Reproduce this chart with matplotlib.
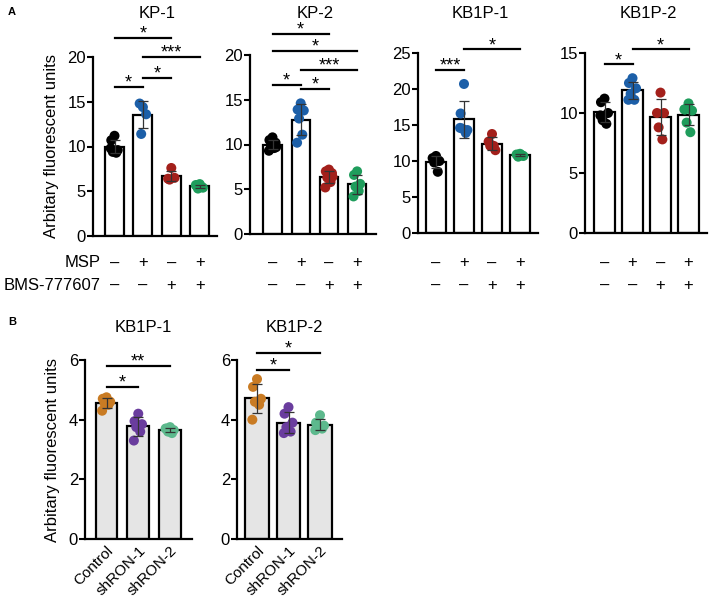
import numpy as np
import matplotlib
matplotlib.use("Agg")
import matplotlib.pyplot as plt
from matplotlib import transforms

plt.rcParams['font.family'] = ['Liberation Sans', 'DejaVu Sans']

# ---------------- data ----------------
groups_A = ["KP-1", "KP-2", "KB1P-1", "KB1P-2"]
msp_signs = ["–", "+", "–", "+"]
bms_signs = ["–", "–", "+", "+"]

kp1 = [[11.2, 10.7, 9.6, 9.4, 9.3, 9.8],
       [14.4, 14.8, 13.6, 11.4],
       [7.6, 6.4, 6.5, 6.3],
       [5.8, 5.6, 5.4, 5.3, 5.5, 5.7]]
kp2 = [[10.8, 10.5, 10.2, 9.9, 9.6, 9.3, 9.7],
       [14.6, 13.9, 13.8, 12.9, 11.1, 10.2],
       [7.2, 7.0, 6.8, 6.3, 5.8, 5.2, 6.4],
       [7.0, 6.6, 5.6, 5.3, 4.8, 4.2]]
kb1p1 = [[10.7, 10.4, 10.0, 9.8, 8.5],
         [20.7, 16.6, 14.3, 14.5, 13.9, 14.6],
         [13.75, 12.7, 11.5, 12.1, 12.1],
         [11.0, 10.9, 10.7, 10.6, 10.8]]
kb1p2 = [[11.2, 10.9, 10.0, 9.4, 9.1, 9.8],
         [12.9, 12.5, 12.06, 11.6, 11.1, 11.1],
         [11.7, 10.0, 10.0, 8.8, 7.8],
         [10.8, 10.3, 10.2, 9.2, 8.4, 10.3]]
data_A = [kp1, kp2, kb1p1, kb1p2]
ymax_A = [20, 20, 25, 15]
ystep_A = [5, 5, 5, 5]

# significance: (bar i, bar j, y level, label)
sig_A = [
    [(0, 2, 22.1, "*"), (1, 3, 20.0, "***"), (0, 1, 16.65, "*"), (1, 2, 17.65, "*")],
    [(0, 2, 22.4, "*"), (0, 3, 20.45, "*"), (1, 3, 18.3, "***"), (0, 1, 16.7, "*"), (1, 2, 16.2, "*")],
    [(0, 1, 22.6, "***"), (1, 3, 25.5, "*")],
    [(0, 1, 14.05, "*"), (1, 3, 15.3, "*")],
]

groups_B = ["KB1P-1", "KB1P-2"]
cats_B = ["Control", "shRON-1", "shRON-2"]
b1 = [[4.75, 4.7, 4.6, 4.55, 4.5, 4.3],
      [4.2, 3.95, 3.85, 3.75, 3.6, 3.3],
      [3.75, 3.7, 3.65, 3.6, 3.55, 3.7]]
b2 = [[5.36, 5.1, 4.7, 4.6, 4.5, 4.0],
      [4.42, 4.2, 3.9, 3.75, 3.6, 3.55],
      [4.15, 3.9, 3.8, 3.75, 3.7, 3.65]]
data_B = [b1, b2]
sig_B = [
    [(0, 1, 5.09, "*"), (0, 2, 5.8, "**")],
    [(0, 1, 5.67, "*"), (0, 2, 6.23, "*")],
]

colors_A = ["#000000", "#1c5fa8", "#a3201b", "#1f9d5c"]
colors_B = ["#c97b23", "#6a3d9e", "#5db98d"]

# ---------------- layout ----------------
W, H = 709, 602
fig = plt.figure(figsize=(W / 100, H / 100), dpi=100)

def add_ax(x0, x1, ytop, ybot):
    return fig.add_axes([x0 / W, 1 - ybot / H, (x1 - x0) / W, (ybot - ytop) / H])

# pixel layouts: (x0, x1, ytop, ybot, first centre px, pitch px, bar width frac)
lay_A = [(93, 217, 57, 236, 114.5, 28.4, 0.67),
         (250, 376, 55, 234, 272.5, 28.2, 0.64),
         (418, 538, 53, 233, 436.0, 28.0, 0.71),
         (585, 707, 53, 233, 604.5, 28.0, 0.74)]
lay_B = [(85, 192, 360, 539, 106.5, 31.75, 0.69),
         (237, 342, 360, 539, 257.0, 31.5, 0.74)]

offs_pattern = [0.0, -0.17, 0.17, -0.09, 0.09, -0.2, 0.2]

FS = 12

def style_ax(ax, ymax, step):
    for s in ["top", "right"]:
        ax.spines[s].set_visible(False)
    for s in ["left", "bottom"]:
        ax.spines[s].set_linewidth(1.6)
    ax.set_ylim(0, ymax)
    ax.set_yticks(np.arange(0, ymax + 0.01, step))
    ax.tick_params(axis='y', length=4, width=1.5, labelsize=FS, pad=1)
    ax.tick_params(axis='x', length=0)
    ax.patch.set_alpha(0)

def draw_panel(ax, vals, colors, width, fill):
    xs = np.arange(len(vals))
    means = [np.mean(v) for v in vals]
    sds = [np.std(v, ddof=1) for v in vals]
    ax.bar(xs, means, width=width, color=fill, edgecolor='black', linewidth=1.6, zorder=2)
    for i, v in enumerate(vals):
        offs = [offs_pattern[k % len(offs_pattern)] for k in range(len(v))]
        ax.scatter(xs[i] + np.array(offs) * width, v, s=52, color=colors[i],
                   edgecolor='none', zorder=3, clip_on=False)
    ax.errorbar(xs, means, yerr=sds, fmt='none', ecolor='#333333', elinewidth=0.9,
                capsize=3.5, capthick=0.9, zorder=4)

def draw_sig(ax, sigs):
    for (i, j, y, lab) in sigs:
        ax.plot([i, j], [y, y], color='black', lw=1.6, clip_on=False, zorder=5)
        ax.annotate(lab, xy=((i + j) / 2, y), xytext=(0, -0.5), textcoords='offset points',
                    ha='center', va='baseline', fontsize=13, annotation_clip=False)

# Panel A
for k, (name, vals) in enumerate(zip(groups_A, data_A)):
    x0, x1, yt, yb, c0, pitch, bw = lay_A[k]
    ax = add_ax(x0, x1, yt, yb)
    ax.set_xlim((x0 - c0) / pitch, (x1 - c0) / pitch)
    style_ax(ax, ymax_A[k], ystep_A[k])
    draw_panel(ax, vals, colors_A, bw, 'white')
    draw_sig(ax, sig_A[k])
    ax.set_xticks([])
    fig.text(((x0 + x1) / 2 + 2) / W, 1 - 14 / H, name, ha='center', va='center', fontsize=FS)
    tr = transforms.blended_transform_factory(ax.transData, fig.transFigure)
    for i in range(4):
        ax.text(i, 1 - 263 / H, msp_signs[i], transform=tr, ha='center', va='center', fontsize=FS)
        ax.text(i, 1 - 285 / H, bms_signs[i], transform=tr, ha='center', va='center', fontsize=FS)
    if k == 0:
        ax.set_ylabel("Arbitary fluorescent units", fontsize=FS, labelpad=6)

fig.text(101 / W, 1 - 263 / H, "MSP", ha='right', va='center', fontsize=FS)
fig.text(101 / W, 1 - 285 / H, "BMS-777607", ha='right', va='center', fontsize=FS)

# Panel B
for k, (name, vals) in enumerate(zip(groups_B, data_B)):
    x0, x1, yt, yb, c0, pitch, bw = lay_B[k]
    ax = add_ax(x0, x1, yt, yb)
    ax.set_xlim((x0 - c0) / pitch, (x1 - c0) / pitch)
    style_ax(ax, 6, 2)
    draw_panel(ax, vals, colors_B, bw, '#e5e5e5')
    draw_sig(ax, sig_B[k])
    ax.set_xticks(range(3))
    ax.set_xticklabels(cats_B, rotation=45, ha='right', rotation_mode='anchor', fontsize=11)
    ax.tick_params(axis='x', pad=3)
    fig.text(((x0 + x1) / 2 + 5) / W, 1 - 328 / H, name, ha='center', va='center', fontsize=FS)
    if k == 0:
        ax.set_ylabel("Arbitary fluorescent units", fontsize=FS, labelpad=6)

fig.text(8 / W, 1 - 12 / H, "A", fontsize=8, fontweight='bold', ha='left', va='center')
fig.text(8 / W, 1 - 322 / H, "B", fontsize=8, fontweight='bold', ha='left', va='center')

fig.savefig("out.png", dpi=100)
